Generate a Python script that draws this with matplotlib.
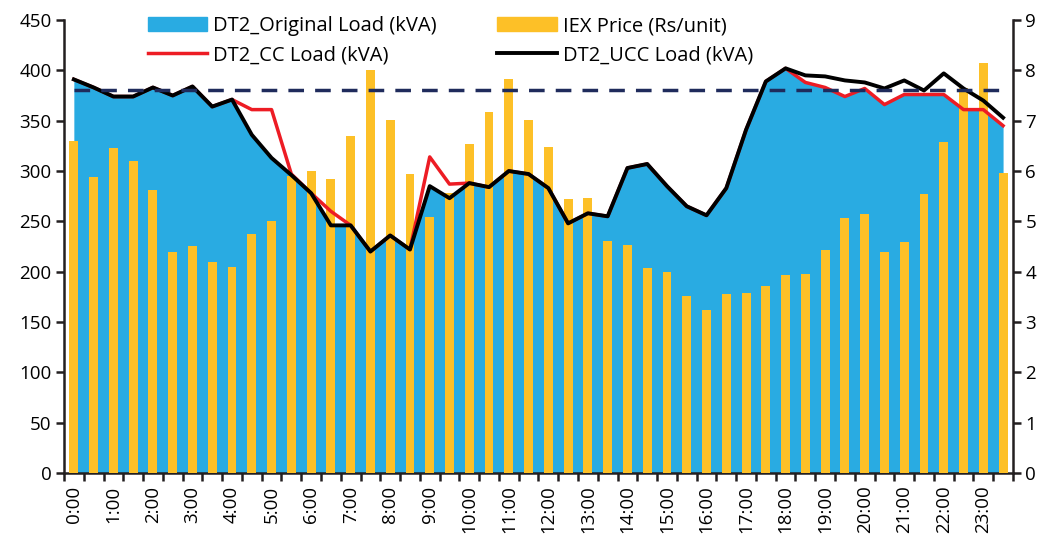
import matplotlib
matplotlib.use("Agg")
import matplotlib.pyplot as plt
from matplotlib.patches import Patch
from matplotlib.lines import Line2D
from matplotlib.ticker import MultipleLocator, FixedLocator

plt.rcParams['font.family'] = ['Open Sans', 'DejaVu Sans']

# half-hour slots 0:00 ... 23:30
slots = ["%d:%02d" % (h, m) for h in range(24) for m in (0, 30)]

original_load = [391, 383, 374, 374, 383, 375, 384, 364, 371, 336, 313, 296,
                 278, 246, 246, 220, 236, 222, 285, 273, 288, 284, 300, 297,
                 283, 248, 258, 255, 303, 307, 285, 265, 256, 283, 341, 389,
                 402, 388, 383, 374, 382, 366, 376, 376, 376, 361, 361, 345]

cc_load = [391, 383, 374, 374, 383, 375, 384, 364, 371, 361, 361, 297,
           278, 260, 246, 220, 236, 222, 314, 287, 288, 284, 300, 297,
           283, 248, 258, 255, 303, 307, 285, 265, 256, 283, 341, 389,
           402, 388, 383, 374, 382, 366, 376, 376, 376, 361, 361, 345]

ucc_load = [391, 383, 374, 374, 383, 375, 384, 364, 371, 336, 313, 296,
            278, 246, 246, 220, 236, 222, 285, 273, 288, 284, 300, 297,
            283, 248, 258, 255, 303, 307, 285, 265, 256, 283, 341, 389,
            402, 395, 394, 390, 388, 382, 390, 380, 397, 382, 370, 353]

iex_price = [6.60, 5.88, 6.46, 6.20, 5.62, 4.39, 4.51, 4.19, 4.09, 4.75, 5.01, 5.91,
             6.00, 5.84, 6.70, 8.01, 7.01, 5.95, 5.09, 5.56, 6.54, 7.17, 7.83, 7.01,
             6.48, 5.44, 5.46, 4.61, 4.53, 4.07, 3.99, 3.52, 3.24, 3.56, 3.58, 3.72,
             3.93, 3.95, 4.43, 5.07, 5.15, 4.39, 4.59, 5.54, 6.58, 7.64, 8.15, 5.96]

load_limit = 380

c_blue = '#29abe2'
c_orange = '#fdc027'
c_red = '#ed1c24'
c_navy = '#1f2b5c'
c_axis = '#231f20'

x = list(range(len(slots)))

fig = plt.figure(figsize=(10.4, 5.34), dpi=100)
ax = fig.add_axes([0.0615, 0.1142, 0.9125, 0.8483])
ax_p = ax.twinx()   # price axis on the right
ax_l = ax.twinx()   # lines on top of the bars, same scale as ax

ax.fill_between(x, 0, original_load, color=c_blue, linewidth=0)
ax_p.bar(x, iex_price, width=0.45, color=c_orange, linewidth=0)
ax_l.plot(x, cc_load, color=c_red, lw=2.5)
ax_l.plot(x, ucc_load, color='black', lw=2.8)
ax_l.hlines(load_limit, x[0], x[-1], colors=c_navy, lw=2.5,
            linestyles=(0, (4.5, 3.2)))

ax.set_ylim(0, 450)
ax_l.set_ylim(0, 450)
ax_p.set_ylim(0, 9)
ax.set_xlim(-0.5, len(x) - 0.5)
for a in (ax, ax_p, ax_l):
    for s in a.spines.values():
        s.set_visible(False)

ax.spines['left'].set_visible(True)
ax.spines['bottom'].set_visible(True)
ax_p.spines['right'].set_visible(True)
for s in (ax.spines['left'], ax.spines['bottom'], ax_p.spines['right']):
    s.set_linewidth(1.8)
    s.set_color(c_axis)

ax.yaxis.set_major_locator(MultipleLocator(50))
ax_p.yaxis.set_major_locator(MultipleLocator(1))
ax.tick_params(axis='y', direction='out', length=6, width=1.8, labelsize=13.5,
               color=c_axis, pad=3)
ax_p.tick_params(axis='y', direction='out', length=6, width=1.8, labelsize=13.5,
                 color=c_axis, pad=3)
ax_l.tick_params(axis='y', right=False, labelright=False)

ax.set_xticks(x[::2])
ax.set_xticklabels(slots[::2], rotation=90)
ax.xaxis.set_minor_locator(FixedLocator([i - 0.5 for i in range(len(x) + 1)]))
ax.tick_params(axis='x', which='major', length=0, labelsize=13.5, pad=9)
ax.tick_params(axis='x', which='minor', length=6, width=1.8, color=c_axis)

handles = [Patch(color=c_blue), Line2D([], [], color=c_red, lw=2.5),
           Patch(color=c_orange), Line2D([], [], color='black', lw=2.8)]
labels = ['DT2_Original Load (kVA)', 'DT2_CC Load (kVA)',
          'IEX Price (Rs/unit)', 'DT2_UCC Load (kVA)']
ax_l.legend(handles, labels, ncol=2, frameon=False, fontsize=14.5,
            loc='upper left', bbox_to_anchor=(0.1345, 0.985),
            bbox_transform=fig.transFigure, handlelength=2.95, handleheight=0.65,
            columnspacing=3.0, labelspacing=0.45, handletextpad=0.3,
            borderaxespad=0)

fig.savefig('out.png', dpi=100)
